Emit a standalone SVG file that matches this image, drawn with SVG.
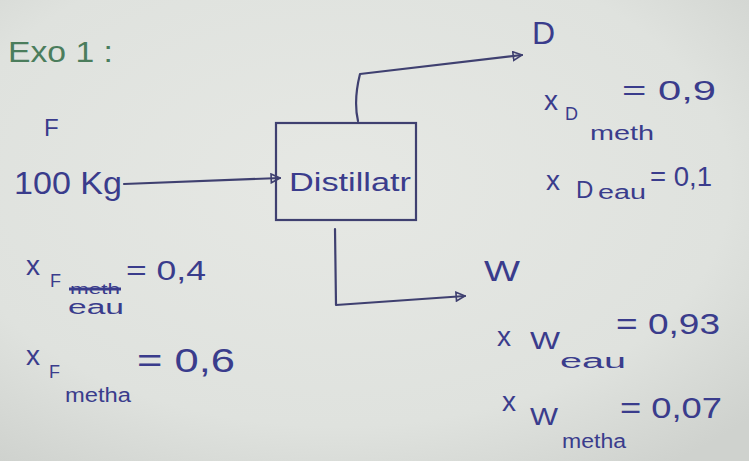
<svg xmlns="http://www.w3.org/2000/svg" width="749" height="461" viewBox="0 0 749 461">
<style>
.ink{fill:#3a3c8c;font-family:"Liberation Sans","DejaVu Sans",sans-serif;}
.big{font-size:28px;}
.mid{font-size:24px;}
.sub{font-size:18px;}
.line{fill:none;stroke:#3f4070;stroke-width:2.2;stroke-linecap:round;stroke-linejoin:round;}
</style>
<defs>
<radialGradient id="bg" cx="0.45" cy="0.4" r="0.75">
<stop offset="0" stop-color="#e6e8e4"/>
<stop offset="0.7" stop-color="#dfe2de"/>
<stop offset="1" stop-color="#cfd2ce"/>
</radialGradient>
<marker id="ah" viewBox="0 0 10 10" refX="9" refY="5" markerWidth="11" markerHeight="11" orient="auto" markerUnits="userSpaceOnUse">
<path d="M1,1 L9,5 L1,9 Z" fill="none" stroke="#3f4070" stroke-width="1.5"/>
</marker>
</defs>
<rect width="749" height="461" fill="url(#bg)"/>

<g id="title">
<text x="8" y="62" font-family="Liberation Sans, sans-serif" font-size="30" fill="#4b7d5c" textLength="105" lengthAdjust="spacingAndGlyphs">Exo 1 :</text>
</g>

<g id="connectors">
<path class="line" d="M124,184 L280,178" marker-end="url(#ah)"/>
<path class="line" d="M358,121 C355,108 356,90 360,74 L522,55" marker-end="url(#ah)"/>
<path class="line" d="M335,229 L336,305 L465,296" marker-end="url(#ah)"/>
</g>

<g id="node-distillateur">
<rect x="276" y="123" width="140" height="97" fill="none" stroke="#3f4070" stroke-width="2.2"/>
<text class="ink" font-size="26" x="289" y="191" textLength="122" lengthAdjust="spacingAndGlyphs">Distillatr</text>
</g>

<g id="node-F">
<text class="ink mid" x="44" y="136">F</text>
<text class="ink" font-size="32" x="14" y="194" textLength="108" lengthAdjust="spacingAndGlyphs">100 Kg</text>
<text class="ink big" x="26" y="275">x</text>
<text class="ink sub" x="50" y="287">F</text>
<text class="ink" x="70" y="294" font-size="15" textLength="50" lengthAdjust="spacingAndGlyphs">meth</text>
<line x1="69" y1="289" x2="121" y2="289" stroke="#3a3c8c" stroke-width="3"/>
<text class="ink" font-size="20" x="68" y="314" textLength="56" lengthAdjust="spacingAndGlyphs">eau</text>
<text class="ink big" x="126" y="280" textLength="80" lengthAdjust="spacingAndGlyphs">= 0,4</text>
<text class="ink big" x="26" y="365">x</text>
<text class="ink sub" x="49" y="378">F</text>
<text class="ink" font-size="20" x="65" y="402" textLength="66" lengthAdjust="spacingAndGlyphs">metha</text>
<text class="ink" font-size="34" x="137" y="372" textLength="98" lengthAdjust="spacingAndGlyphs">= 0,6</text>
</g>

<g id="node-D">
<text class="ink" font-size="32" x="532" y="44">D</text>
<text class="ink big" x="544" y="110">x</text>
<text class="ink sub" x="565" y="120">D</text>
<text class="ink" font-size="20" x="590" y="140" textLength="64" lengthAdjust="spacingAndGlyphs">meth</text>
<text class="ink big" x="622" y="100" textLength="94" lengthAdjust="spacingAndGlyphs">= 0,9</text>
<text class="ink big" x="546" y="190">x</text>
<text class="ink mid" x="576" y="198">D</text>
<text class="ink" font-size="20" x="598" y="199" textLength="48" lengthAdjust="spacingAndGlyphs">eau</text>
<text class="ink big" x="650" y="186" textLength="62" lengthAdjust="spacingAndGlyphs">= 0,1</text>
</g>

<g id="node-W">
<text class="ink" font-size="30" x="484" y="281" textLength="36" lengthAdjust="spacingAndGlyphs">W</text>
<text class="ink big" x="497" y="346">x</text>
<text class="ink mid" x="530" y="349" textLength="30" lengthAdjust="spacingAndGlyphs">W</text>
<text class="ink" font-size="20" x="560" y="368" textLength="66" lengthAdjust="spacingAndGlyphs">eau</text>
<text class="ink" font-size="30" x="616" y="334" textLength="104" lengthAdjust="spacingAndGlyphs">= 0,93</text>
<text class="ink big" x="502" y="411">x</text>
<text class="ink mid" x="530" y="425" textLength="28" lengthAdjust="spacingAndGlyphs">W</text>
<text class="ink" font-size="20" x="562" y="448" textLength="64" lengthAdjust="spacingAndGlyphs">metha</text>
<text class="ink" font-size="30" x="620" y="418" textLength="102" lengthAdjust="spacingAndGlyphs">= 0,07</text>
</g>
</svg>
